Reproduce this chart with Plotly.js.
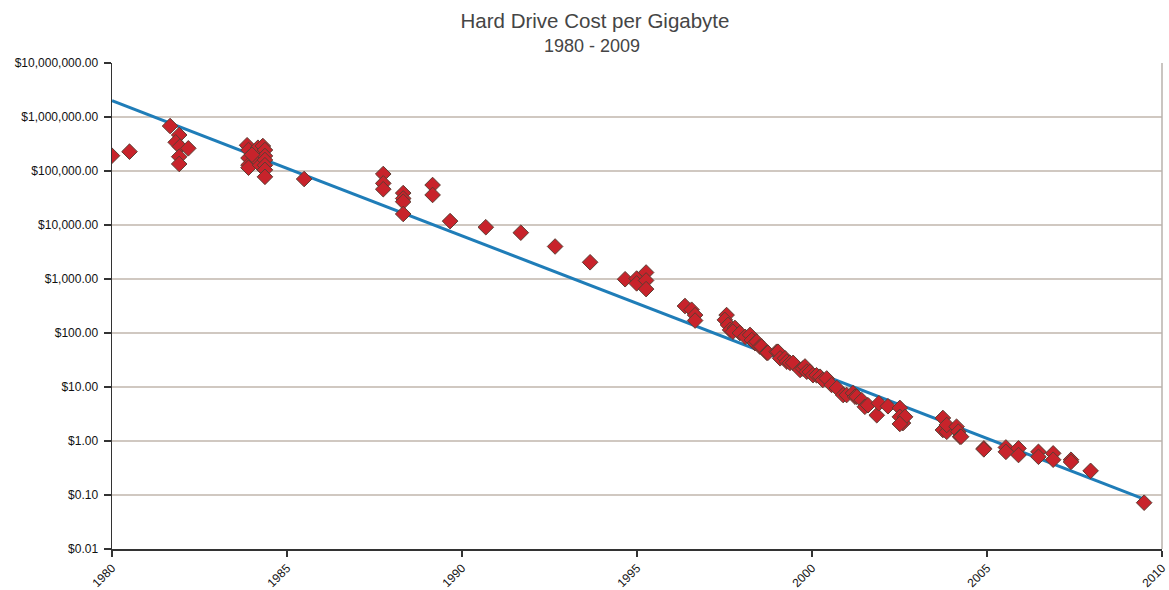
<!DOCTYPE html>
<html>
<head>
<meta charset="utf-8">
<script src="https://cdn.plot.ly/plotly-3.0.1.min.js"></script>
<style>html,body{margin:0;padding:0;background:#fff;}#chart{width:1169px;height:590px;}</style>
</head>
<body>
<div id="chart"></div>
<script>
// Observed hard drive prices (year, $ per GB)
const years = [
  1980.0, 1980.5, 1981.66, 1981.92, 1981.82, 1981.94, 1982.18, 1981.92, 1981.92,
  1983.86, 1983.9, 1983.9, 1983.9, 1983.9, 1984.17, 1984.14, 1984.23, 1984.31, 1984.37, 1984.37, 1984.37, 1984.37, 1984.37, 1984.37, 1984.0,
  1985.49,
  1987.75, 1987.75, 1987.75,
  1988.32, 1988.32, 1988.32, 1988.32,
  1989.16, 1989.16, 1989.66, 1990.68, 1991.68, 1992.66, 1993.66,
  1994.66, 1994.99, 1994.99, 1995.26, 1995.26, 1995.26,
  1996.37, 1996.56, 1996.66, 1996.66,
  1997.56, 1997.51, 1997.6, 1997.66, 1997.8, 1997.74, 1997.94, 1998.09, 1998.23, 1998.28, 1998.37, 1998.42, 1998.51, 1998.56,
  1998.71, 1998.74, 1998.99, 1999.03, 1999.09, 1999.23, 1999.28, 1999.37, 1999.46, 1999.66, 1999.74, 1999.8, 1999.85, 1999.94,
  2000.03, 2000.13, 2000.23, 2000.31, 2000.42, 2000.56, 2000.71, 2000.89, 2000.99, 2001.17, 2001.23, 2001.28, 2001.42, 2001.51,
  2001.6, 2001.85, 2001.91, 2002.17, 2002.51, 2002.51, 2002.6, 2002.66, 2002.51,
  2003.74, 2003.74, 2003.85, 2003.85, 2004.13, 2004.18, 2004.23, 2004.26,
  2004.91, 2004.91, 2005.54, 2005.54, 2005.9, 2005.9, 2006.47, 2006.47, 2006.89, 2006.89, 2007.4, 2007.4, 2007.96, 2009.49
];
const costs = [
  192000, 228000, 680000, 465000, 340000, 283000, 263000, 184000, 135000,
  300000, 245000, 174000, 129000, 115000, 270000, 160000, 128000, 290000, 245000, 190000, 160000, 128000, 105000, 78000, 200000,
  71000,
  88000, 59000, 46000,
  39000, 31000, 27000, 16000,
  55000, 36000, 11800, 9100, 7200, 4000, 2040,
  990, 1020, 830, 1320, 940, 650,
  316, 270, 215, 170,
  215, 175, 141, 114, 124, 106, 100, 85, 92, 74, 65, 69, 56, 56,
  43, 43, 45, 45, 34, 34, 29.5, 28, 28, 20.7, 22, 24, 19.2, 19,
  16.6, 16.5, 15.5, 13.5, 14.4, 10.9, 9.6, 7.1, 7.1, 7.7, 6.6, 6.6, 5.7, 4.3,
  4.6, 3.0, 5.0, 4.4, 4.1, 2.8, 2.15, 2.8, 2.07,
  2.67, 1.6, 1.48, 1.98, 1.84, 1.49, 1.2, 1.2,
  0.73, 0.70, 0.76, 0.63, 0.73, 0.55, 0.63, 0.51, 0.59, 0.45, 0.45, 0.41, 0.28, 0.072
];
// Exponential trend line end points
const trendYears = [1980.0, 2009.47];
const trendCosts = [2.0e6, 0.085];

// Axis ticks
const yTickVals = [0.01, 0.1, 1, 10, 100, 1000, 10000, 100000, 1000000, 10000000];
const yTickText = ['$0.01', '$0.10', '$1.00', '$10.00', '$100.00', '$1,000.00', '$10,000.00',
                   '$100,000.00', '$1,000,000.00', '$10,000,000.00'];
const xTickVals = [1980, 1985, 1990, 1995, 2000, 2005, 2010];
const xTickText = ['1980', '1985', '1990', '1995', '2000', '2005', '2010'];

const FONT = 'Liberation Sans, Arial, sans-serif';

const traces = [
  {
    x: trendYears, y: trendCosts, type: 'scatter', mode: 'lines',
    line: {color: '#1f7db8', width: 3}, hoverinfo: 'skip', showlegend: false
  },
  {
    x: years, y: costs, type: 'scatter', mode: 'markers',
    marker: {symbol: 'diamond', size: 12, color: '#c8232b',
             line: {color: '#5b3d33', width: 1}},
    showlegend: false
  }
];

const layout = {
  width: 1169, height: 590,
  margin: {l: 112, r: 7, t: 63, b: 41},
  paper_bgcolor: '#ffffff', plot_bgcolor: '#ffffff',
  font: {family: FONT, color: '#222'},
  title: {text: 'Hard Drive Cost per Gigabyte', x: 595 / 1169, xanchor: 'center',
          y: 1 - 21 / 590, yanchor: 'middle', yref: 'container', xref: 'container',
          font: {family: FONT, size: 20.5, color: '#454545'}},
  annotations: [{text: '1980 - 2009', xref: 'paper', yref: 'paper', x: (592 - 112) / 1050,
                 y: (549 - 46) / 486, xanchor: 'center', yanchor: 'middle', showarrow: false,
                 font: {family: FONT, size: 18, color: '#454545'}}],
  xaxis: {
    range: [1980, 2010], tickvals: xTickVals, ticktext: xTickText, tickangle: -45,
    ticks: 'outside', ticklen: 6, tickcolor: '#333', tickwidth: 1.5,
    showline: true, linecolor: '#333', linewidth: 1.5,
    showgrid: false, zeroline: false,
    tickfont: {family: FONT, size: 12, color: '#111'}
  },
  yaxis: {
    type: 'log', range: [-2, 7], tickvals: yTickVals, ticktext: yTickText,
    ticks: 'outside', ticklen: 7, tickcolor: '#333', tickwidth: 1.5,
    showline: true, linecolor: '#333', linewidth: 1.5,
    showgrid: true, gridcolor: '#d0c8c1', gridwidth: 2, zeroline: false,
    ticklabelstandoff: 3,
    tickfont: {family: FONT, size: 12, color: '#111'}
  },
  shapes: [{type: 'line', xref: 'paper', yref: 'paper', x0: 1, x1: 1, y0: 0, y1: 1,
            line: {color: '#b8b2ad', width: 1.5}}]
};

Plotly.newPlot('chart', traces, layout, {displayModeBar: false, staticPlot: true});
</script>
</body>
</html>
